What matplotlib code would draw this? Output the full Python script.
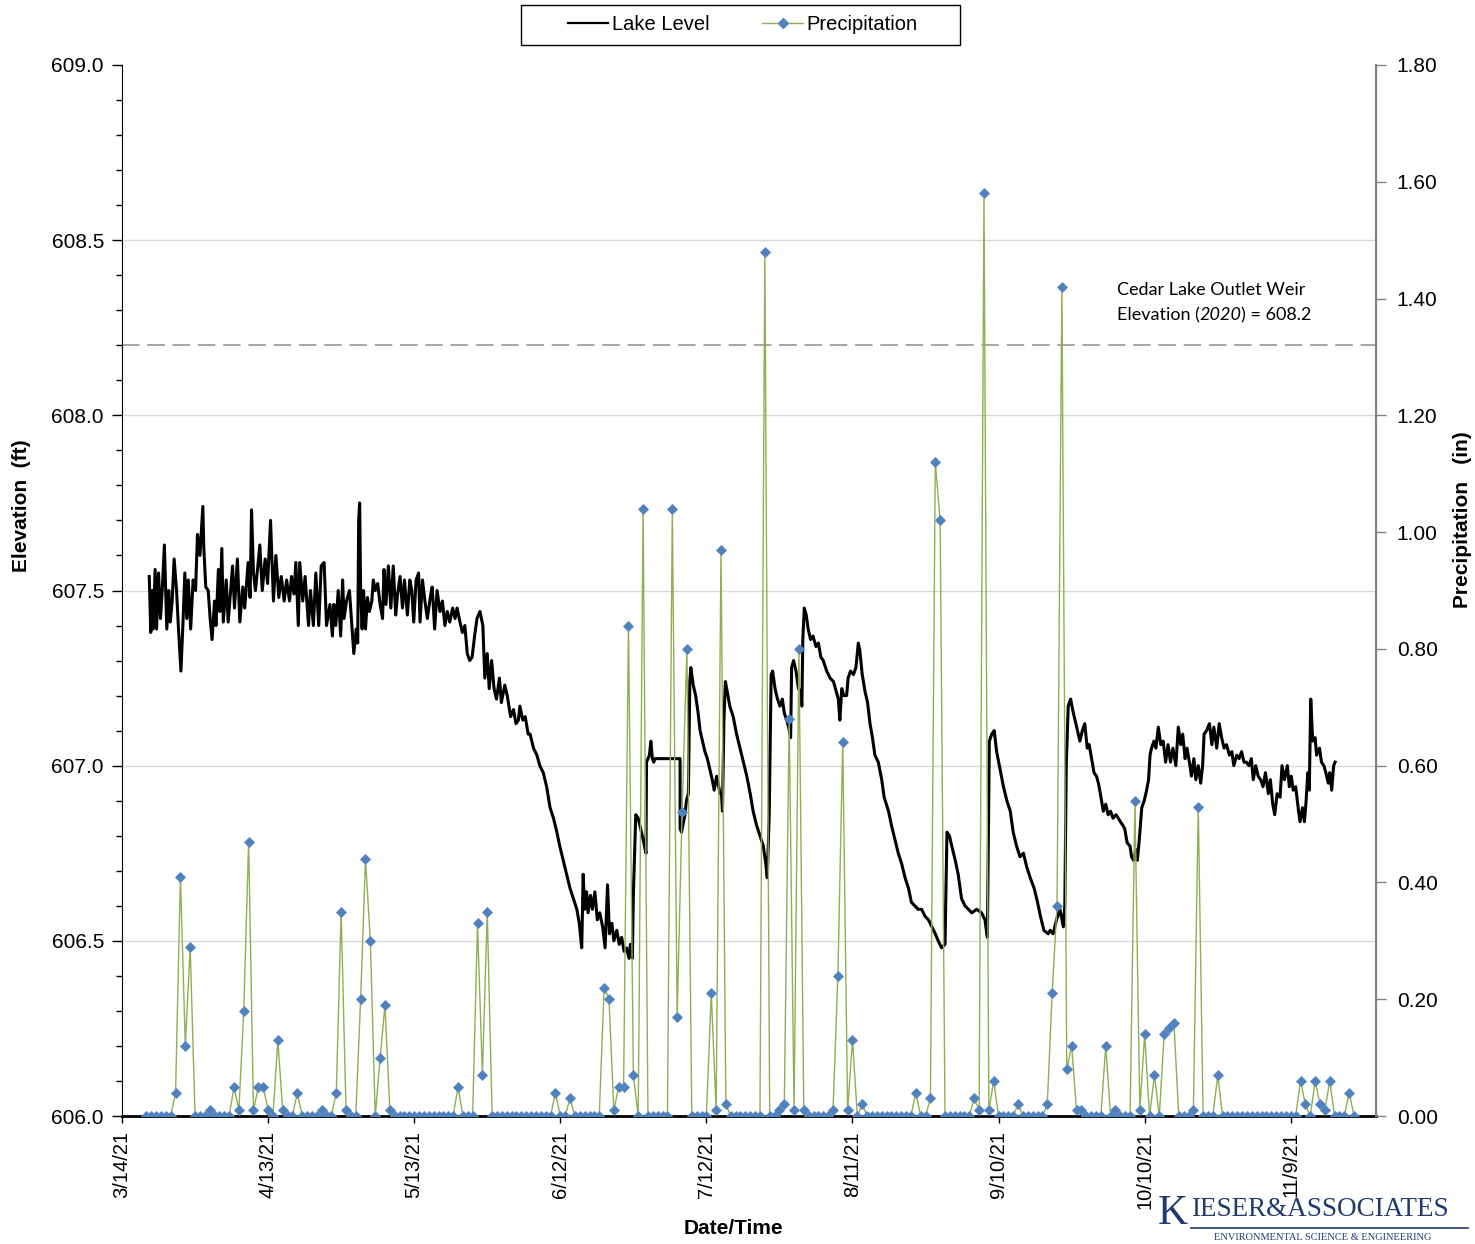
import datetime as dt
import matplotlib
matplotlib.use("Agg")
import matplotlib.pyplot as plt
import matplotlib.dates as mdates
from matplotlib.ticker import MultipleLocator, FuncFormatter, FixedLocator
from matplotlib.lines import Line2D
from matplotlib.patches import Rectangle

plt.rcParams["font.family"] = ["Liberation Sans", "DejaVu Sans"]

# ---------------- data ----------------
start_date = dt.datetime(2021, 3, 14)
axis_days = 257.5
tick_step_days = 30

# lake level: (days after 3/14/21, elevation ft)
lake_day = [
    5.6, 5.9, 6.2, 6.4, 6.8, 7.1, 7.5, 7.9, 8.3, 8.7, 9.2, 9.6, 9.9, 10.3, 10.7, 11.2, 11.6, 12.1, 12.5, 12.9,
    13.3, 13.6, 14.1, 14.6, 15.1, 15.5, 16.0, 16.6, 16.8, 17.2, 17.7, 18.1, 18.5, 19.0, 19.3, 19.8, 20.1, 20.5,
    20.8, 21.4, 21.8, 22.7, 23.1, 23.7, 24.2, 24.8, 25.2, 25.9, 26.3, 26.6, 27.0, 27.4, 27.9, 28.3, 28.8, 29.4,
    29.9, 30.5, 31.1, 31.6, 32.2, 32.7, 33.3, 33.8, 34.4, 34.8, 35.3, 35.7, 36.2, 36.5, 37.1, 37.6, 38.3, 38.7,
    39.3, 39.8, 40.4, 40.9, 41.5, 42.0, 42.7, 43.2,
    43.5, 43.9, 44.4, 44.9, 45.3, 45.6, 46.1, 46.7, 47.2, 47.6, 48.1, 48.4, 48.6, 48.8, 49.0, 49.3, 49.6, 50.0,
    50.4, 50.8, 51.3, 51.6, 52.0, 52.5, 53.0, 53.5, 53.8, 54.2, 54.7, 55.2, 55.7, 56.2, 56.6, 57.1, 57.6, 58.0,
    58.6, 59.1, 59.5, 59.9, 60.4, 60.9, 61.2, 61.7, 62.2, 62.7, 63.3, 63.7, 64.2, 64.7, 65.3, 65.8, 66.3, 66.8,
    67.3, 67.9, 68.4, 68.8, 69.4, 69.9, 70.4, 70.9, 71.4, 71.9, 72.4, 72.9, 73.5,
    74.1, 74.5, 75.0, 75.4, 75.9, 76.4, 76.9, 77.5, 77.9, 78.6, 79.1, 79.8, 80.4, 80.9, 81.4, 81.7, 82.3, 82.8,
    83.4, 83.8, 84.5, 85.2, 85.8, 86.5, 87.2, 87.9, 88.6, 89.3, 89.9, 90.6, 91.3, 92.0, 92.7, 93.4, 93.9, 94.4,
    94.7, 95.0, 95.4, 95.7, 96.2, 96.6, 97.1, 97.6, 98.1, 98.7, 99.2, 99.7, 100.1, 100.6, 101.0, 101.6, 102.1,
    102.6, 103.1, 103.6, 104.1, 104.4, 104.8,
    105.0, 105.5, 106.0, 106.5, 107.0, 107.6, 107.7, 108.3, 108.6, 108.9, 109.2, 109.4, 114.6, 114.6, 114.9,
    115.3, 115.6, 115.9, 116.3, 116.6, 116.8, 117.3, 117.8, 118.3, 118.7, 119.2, 119.7, 120.2, 120.7, 121.2,
    121.6, 122.1, 122.4, 122.8, 123.1, 123.3, 123.6, 123.9, 124.3, 124.8, 125.5, 126.2, 126.9, 127.6, 128.3,
    129.0, 129.6, 130.3, 131.0, 131.7, 132.2, 132.5, 132.9, 133.3, 133.6, 134.1, 134.6, 135.1, 135.6, 136.0,
    136.5, 136.9, 137.3, 137.5, 137.9, 138.4, 138.9, 139.4, 139.6, 139.8, 140.1, 140.5, 140.9, 141.4, 141.9,
    142.5, 143.0, 143.5, 144.0, 144.7,
    145.4, 146.1, 146.7, 147.1, 147.4, 147.8, 148.2, 148.8, 149.1, 149.6, 150.2, 150.7, 151.2, 151.5, 152.0,
    152.6, 153.1, 153.6, 154.1, 154.6, 155.3, 156.0, 156.5, 157.4, 158.0, 158.7, 159.4, 160.1, 160.8, 161.5,
    162.1, 162.8, 163.5, 164.2, 164.9, 165.6, 166.3, 167.0, 167.6, 168.3, 169.0, 169.4, 169.9, 170.4, 171.1,
    171.7, 172.4, 173.1, 173.8, 174.5, 175.5, 176.5, 177.2, 177.7, 178.1, 178.6, 179.1, 179.6, 180.3, 181.0,
    181.7, 182.4, 183.0, 183.7, 184.4, 185.1, 185.8, 186.5, 187.3, 188.0, 188.6, 189.3, 190.2,
    190.6, 191.2, 191.9, 192.6, 193.3, 193.6, 193.9, 194.3, 194.8, 195.2, 195.7, 196.2, 196.7, 197.2, 197.7,
    198.2, 198.6, 199.1, 199.6, 200.1, 200.5, 200.9, 201.5, 202.0, 202.5, 203.0, 203.5, 204.1, 204.6, 205.0,
    205.5, 205.9, 206.4, 207.0, 207.3, 207.7, 208.2, 208.5, 208.9, 209.4, 209.9, 210.4, 210.8, 211.1, 211.4,
    211.9, 212.3, 212.8, 213.3, 213.8, 214.3, 214.8, 215.3, 215.8, 216.4, 216.9, 217.4, 217.8, 218.3, 218.7,
    219.3, 219.6, 220.1, 220.5, 221.0, 221.5, 221.9, 222.2, 222.7, 223.3, 223.8, 224.2, 224.8, 225.3, 225.8,
    226.3, 226.8, 227.4, 227.9, 228.3, 228.9, 229.4, 229.9, 230.4, 230.9, 231.4, 231.9, 232.3, 232.8, 233.3,
    233.8, 234.3, 234.8, 235.4, 235.8, 236.3, 236.7, 237.2, 237.8, 238.2, 238.7, 239.3, 239.7, 240.1, 240.5,
    241.0, 241.6, 241.9, 242.4, 242.8, 243.1, 243.5, 243.8, 244.1, 244.5, 245.0, 245.3, 245.9, 246.3, 246.8,
    247.2, 247.7, 248.0, 248.4, 248.8, 249.1,
]
lake_ft = [
    607.54, 607.38, 607.50, 607.39, 607.56, 607.39, 607.55, 607.42, 607.51, 607.63, 607.39, 607.50, 607.41,
    607.47, 607.59, 607.50, 607.39, 607.27, 607.40, 607.55, 607.42, 607.53, 607.39, 607.53, 607.50, 607.66,
    607.60, 607.74, 607.62, 607.51, 607.50, 607.42, 607.36, 607.47, 607.40, 607.56, 607.44, 607.62, 607.41,
    607.53, 607.41, 607.57, 607.45, 607.59, 607.41, 607.51, 607.45, 607.58, 607.48, 607.73, 607.55, 607.50,
    607.57, 607.63, 607.50, 607.59, 607.52, 607.70, 607.47, 607.60, 607.48, 607.54, 607.47, 607.53, 607.47,
    607.54, 607.49, 607.58, 607.40, 607.58, 607.47, 607.54, 607.40, 607.50, 607.40, 607.55, 607.40, 607.57,
    607.58, 607.40, 607.46, 607.37,
    607.46, 607.40, 607.50, 607.37, 607.53, 607.42, 607.47, 607.50, 607.40, 607.32, 607.39, 607.35, 607.70,
    607.75, 607.50, 607.39, 607.50, 607.39, 607.48, 607.44, 607.47, 607.53, 607.50, 607.52, 607.46, 607.42,
    607.56, 607.46, 607.57, 607.45, 607.57, 607.43, 607.49, 607.54, 607.45, 607.53, 607.43, 607.53, 607.50,
    607.41, 607.53, 607.55, 607.41, 607.53, 607.47, 607.42, 607.48, 607.51, 607.39, 607.50, 607.44, 607.47,
    607.40, 607.44, 607.41, 607.45, 607.42, 607.45, 607.41, 607.38, 607.40, 607.32, 607.30, 607.31, 607.37,
    607.42, 607.44,
    607.40, 607.25, 607.32, 607.22, 607.30, 607.22, 607.19, 607.25, 607.18, 607.23, 607.20, 607.14, 607.16,
    607.12, 607.13, 607.17, 607.13, 607.14, 607.09, 607.09, 607.05, 607.03, 607.00, 606.98, 606.94, 606.88,
    606.85, 606.81, 606.77, 606.73, 606.69, 606.65, 606.62, 606.59, 606.55, 606.48, 606.69, 606.59, 606.64,
    606.58, 606.63, 606.59, 606.64, 606.56, 606.58, 606.54, 606.48, 606.66, 606.52, 606.55, 606.50, 606.53,
    606.49, 606.51, 606.47, 606.48, 606.45, 606.49, 606.45,
    606.63, 606.86, 606.85, 606.82, 606.79, 606.75, 607.01, 607.03, 607.07, 607.02, 607.01, 607.02, 607.02,
    606.82, 606.81, 606.84, 606.86, 606.90, 606.92, 607.24, 607.28, 607.23, 607.20, 607.15, 607.10, 607.07,
    607.04, 607.02, 606.99, 606.96, 606.93, 606.97, 606.95, 606.92, 606.92, 606.87, 607.13, 607.24, 607.21,
    607.17, 607.14, 607.09, 607.05, 607.01, 606.97, 606.92, 606.87, 606.83, 606.80, 606.77, 606.72, 606.68,
    606.86, 607.26, 607.27, 607.22, 607.19, 607.17, 607.19, 607.15, 607.13, 607.11, 607.08, 607.28, 607.30,
    607.27, 607.22, 607.21, 607.17, 607.36, 607.45, 607.43, 607.39, 607.36, 607.37, 607.34, 607.35, 607.31,
    607.30, 607.27,
    607.25, 607.24, 607.21, 607.19, 607.13, 607.22, 607.20, 607.20, 607.25, 607.27, 607.26, 607.28, 607.35,
    607.33, 607.26, 607.21, 607.18, 607.12, 607.08, 607.03, 607.01, 606.96, 606.91, 606.87, 606.83, 606.79,
    606.75, 606.72, 606.68, 606.65, 606.61, 606.60, 606.59, 606.59, 606.57, 606.56, 606.54, 606.52, 606.50,
    606.48, 606.49, 606.81, 606.80, 606.77, 606.73, 606.69, 606.62, 606.60, 606.59, 606.58, 606.59, 606.58,
    606.56, 606.51, 607.07, 607.09, 607.10, 607.04, 606.99, 606.94, 606.90, 606.87, 606.81, 606.77, 606.74,
    606.75, 606.71, 606.68, 606.65, 606.61, 606.57, 606.53, 606.52,
    606.53, 606.52, 606.56, 606.59, 606.54, 606.60, 607.00, 607.17, 607.19, 607.16, 607.13, 607.10, 607.07,
    607.10, 607.12, 607.05, 607.06, 607.02, 606.98, 606.97, 606.95, 606.92, 606.87, 606.89, 606.86, 606.87,
    606.85, 606.86, 606.85, 606.84, 606.83, 606.82, 606.78, 606.77, 606.74, 606.73, 606.76, 606.73, 606.79,
    606.88, 606.90, 606.93, 606.96, 607.03, 607.05, 607.07, 607.05, 607.11, 607.06, 607.07, 607.01, 607.06,
    607.01, 607.05, 607.00, 607.11, 607.06, 607.09, 607.02, 607.05, 607.00, 606.97, 607.02, 606.96, 607.00,
    606.95, 607.00, 607.09, 607.10, 607.12, 607.06, 607.11, 607.05, 607.12, 607.08, 607.05, 607.06, 607.03,
    607.04, 607.00, 607.03, 607.02, 607.04, 607.01, 607.01, 607.00, 607.02, 606.96, 607.00, 606.97, 606.96,
    606.94, 606.98, 606.92, 606.96, 606.89, 606.86, 606.92, 606.91, 607.00, 606.96, 607.00, 606.94, 606.97,
    606.93, 606.94, 606.87, 606.84, 606.88, 606.84, 606.89, 606.98, 606.93, 607.19, 607.07, 607.08, 607.03,
    607.05, 607.01, 607.00, 606.98, 606.95, 606.98, 606.93, 607.00, 607.01,
]

# daily precipitation (in), first value on day 5 after 3/14/21
precip_first_day = 5
precip_in = [
    0, 0, 0, 0, 0, 0, 0.04, 0.41, 0.12, 0.29,
    0, 0, 0, 0.01, 0, 0, 0, 0, 0.05, 0.01,
    0.18, 0.47, 0.01, 0.05, 0.05, 0.01, 0, 0.13, 0.01, 0,
    0, 0.04, 0, 0, 0, 0, 0.01, 0, 0, 0.04,
    0.35, 0.01, 0, 0, 0.20, 0.44, 0.30, 0, 0.10, 0.19,
    0.01, 0, 0, 0, 0, 0, 0, 0, 0, 0,
    0, 0, 0, 0, 0.05, 0, 0, 0, 0.33, 0.07,
    0.35, 0, 0, 0, 0, 0, 0, 0, 0, 0,
    0, 0, 0, 0, 0.04, 0, 0, 0.03, 0, 0,
    0, 0, 0, 0, 0.22, 0.20, 0.01, 0.05, 0.05, 0.84,
    0.07, 0, 1.04, 0, 0, 0, 0, 0, 1.04, 0.17,
    0.52, 0.80, 0, 0, 0, 0, 0.21, 0.01, 0.97, 0.02,
    0, 0, 0, 0, 0, 0, 0, 1.48, 0, 0,
    0.01, 0.02, 0.68, 0.01, 0.80, 0.01, 0, 0, 0, 0,
    0, 0.01, 0.24, 0.64, 0.01, 0.13, 0, 0.02, 0, 0,
    0, 0, 0, 0, 0, 0, 0, 0, 0.04, 0,
    0, 0.03, 1.12, 1.02, 0, 0, 0, 0, 0, 0,
    0.03, 0.01, 1.58, 0.01, 0.06, 0, 0, 0, 0, 0.02,
    0, 0, 0, 0, 0, 0.02, 0.21, 0.36, 1.42, 0.08,
    0.12, 0.01, 0.01, 0, 0, 0, 0, 0.12, 0, 0.01,
    0, 0, 0, 0.54, 0.01, 0.14, 0, 0.07, 0, 0.14,
    0.15, 0.16, 0, 0, 0, 0.01, 0.53, 0, 0, 0,
    0.07, 0, 0, 0, 0, 0, 0, 0, 0, 0,
    0, 0, 0, 0, 0, 0, 0, 0.06, 0.02, 0,
    0.06, 0.02, 0.01, 0.06, 0, 0, 0, 0.04, 0,
]

weir_elev = 608.2
weir_text_1 = "Cedar Lake Outlet Weir"
weir_text_2 = ["Elevation (", "2020", ") = 608.2"]

# ---------------- figure ----------------
W, H = 1475, 1244
fig = plt.figure(figsize=(W / 100, H / 100), dpi=100)
L, R, T, B = 122, 1376, 65, 1116
ax = fig.add_axes([L / W, 1 - B / H, (R - L) / W, (B - T) / H])
ax2 = ax.twinx()

GREEN = "#8FAF52"
BLUE = "#4F81BD"

lake_dates = [start_date + dt.timedelta(days=d) for d in lake_day]
precip_dates = [start_date + dt.timedelta(days=precip_first_day + i) for i in range(len(precip_in))]

ax.plot(lake_dates, lake_ft, color="black", lw=2.2, zorder=3)
ax.axhline(weir_elev, color="#A6A6A6", lw=1.4, dashes=(9, 4), zorder=2)
ax2.plot(precip_dates, precip_in, color=GREEN, lw=1.0, marker="D", markersize=5.2,
         markerfacecolor=BLUE, markeredgecolor="#5B8AC4", markeredgewidth=0.6, zorder=4)

ax.set_xlim(start_date, start_date + dt.timedelta(days=axis_days))
ax.set_ylim(606.0, 609.0)
ax2.set_ylim(0, 1.8)

ticks = [start_date + dt.timedelta(days=tick_step_days * k) for k in range(9)]
ax.xaxis.set_major_locator(FixedLocator(mdates.date2num(ticks)))
ax.xaxis.set_major_formatter(FuncFormatter(
    lambda v, p: (lambda d: f"{d.month}/{d.day}/{d.year % 100}")(mdates.num2date(v))))
for lab in ax.get_xticklabels():
    lab.set_rotation(90)

ax.yaxis.set_major_locator(MultipleLocator(0.5))
ax.yaxis.set_minor_locator(MultipleLocator(0.1))
ax.yaxis.set_major_formatter(FuncFormatter(lambda v, p: f"{v:.1f}"))
ax2.yaxis.set_major_locator(MultipleLocator(0.2))
ax2.yaxis.set_major_formatter(FuncFormatter(lambda v, p: f"{v:.2f}"))

for g in [606.5, 607.0, 607.5, 608.0, 608.5]:
    ax.axhline(g, color="#D9D9D9", lw=1.0, zorder=0)

ax.tick_params(axis="y", which="major", direction="out", length=7, width=1, labelsize=15, pad=6)
ax.tick_params(axis="y", which="minor", direction="out", length=4, width=1)
ax.tick_params(axis="x", direction="out", length=5, width=1, labelsize=14.5, pad=6)
ax2.tick_params(axis="y", direction="out", length=7, width=1, labelsize=15, pad=8, color="#808080")

for a in (ax, ax2):
    a.spines["top"].set_visible(False)
ax.spines["left"].set_color("black")
ax.spines["bottom"].set_linewidth(2.0)
ax2.spines["bottom"].set_visible(False)
ax2.spines["left"].set_visible(False)
ax2.spines["right"].set_color("#808080")
ax2.spines["right"].set_linewidth(1.5)

fig.text(22 / W, 1 - 506 / H, "Elevation  (ft)", fontsize=15, fontweight="bold",
         rotation=90, ha="center", va="center")
fig.text(1462 / W, 1 - 520 / H, "Precipitation   (in)", fontsize=15, fontweight="bold",
         rotation=90, ha="center", va="center")
fig.text(733 / W, 1 - 1229 / H, "Date/Time", fontsize=15, fontweight="bold",
         ha="center", va="center")

# weir annotation
ax.text((1117 - L) / (R - L), (B - 290) / (B - T), weir_text_1, transform=ax.transAxes,
        fontsize=13, family="Lato", va="center", ha="left")
fig.canvas.draw()
r = fig.canvas.get_renderer()
x0 = 1117
y2 = (B - 315) / (B - T)
for i, part in enumerate(weir_text_2):
    t = ax.text((x0 - L) / (R - L), y2, part, transform=ax.transAxes, fontsize=13, family="Lato",
                va="center", ha="left", style="italic" if i == 1 else "normal")
    bb = t.get_window_extent(renderer=r)
    x0 += bb.width - (1 if i == 1 else 0)

# legend (Excel-style box)
handles = [Line2D([], [], color="black", lw=1.6),
           Line2D([], [], color=GREEN, lw=1.0, marker="D", markersize=5,
                  markerfacecolor=BLUE, markeredgecolor="#5B8AC4")]
fig.legend(handles, ["Lake Level", "Precipitation"], loc="center",
           bbox_to_anchor=(743 / W, 1 - 25 / H), ncol=2, frameon=False,
           fontsize=14.5, handlelength=2.0, handletextpad=0.2, columnspacing=2.6)
fig.add_artist(Rectangle((521 / W, 1 - 45 / H), (960 - 521) / W, 40 / H, transform=fig.transFigure,
                         fill=False, edgecolor="black", lw=1.0))

# logo
NAVY = "#1F3A6E"
fig.text(1158 / W, 1 - 1214 / H, "K", fontsize=30, family="Liberation Serif", color=NAVY,
         va="center", ha="left")
fig.text(1191 / W, 1 - 1210 / H, "IESER&ASSOCIATES", fontsize=19.5, family="Liberation Serif",
         color=NAVY, va="center", ha="left")
fig.text(1214 / W, 1 - 1237 / H, "ENVIRONMENTAL SCIENCE & ENGINEERING", fontsize=7.5,
         family="Liberation Serif", color=NAVY, va="center", ha="left")
fig.add_artist(Line2D([1191 / W, 1468 / W], [1 - 1228 / H, 1 - 1228 / H], color=NAVY, lw=1.2))

fig.savefig("out.png", dpi=100)
